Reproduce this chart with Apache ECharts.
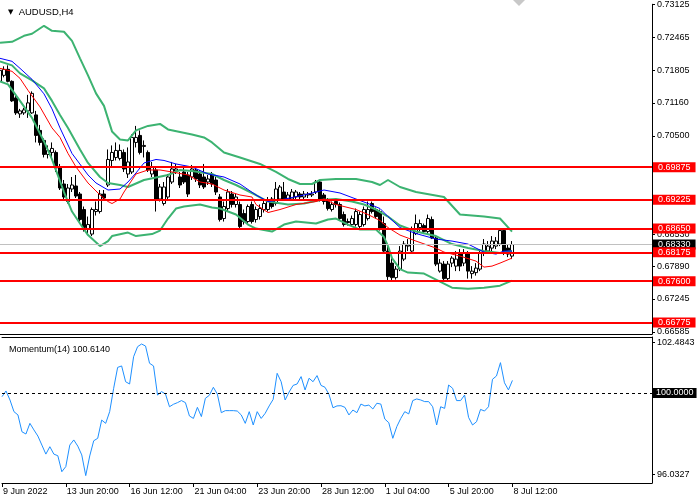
<!DOCTYPE html>
<html><head><meta charset="utf-8">
<script src="https://cdn.jsdelivr.net/npm/echarts@6/dist/echarts.min.js"></script>
<style>html,body{margin:0;padding:0;background:#fff;}#c{width:700px;height:500px;}</style>
</head><body><div id="c"></div>
<script>
const tickLabels = ['9 Jun 2022','13 Jun 20:00','16 Jun 12:00','21 Jun 04:00','23 Jun 20:00','28 Jun 12:00','1 Jul 04:00','5 Jul 20:00','8 Jul 12:00'];
const slotCount = 164; // 129 H4 bars + empty right margin
const categories = Array.from({length: slotCount}, (_, i) => i);

// [open, close, low, high]
const candles = [
[0.7159,0.7181,0.7157,0.7185],[0.7171,0.7183,0.7167,0.7189],[0.7183,0.7159,0.7157,0.7191],[0.7159,0.7120,0.7118,0.7161],
[0.7126,0.7096,0.7092,0.7130],[0.7094,0.7100,0.7086,0.7104],[0.7096,0.7102,0.7092,0.7106],[0.7100,0.7116,0.7086,0.7132],
[0.7096,0.7135,0.7094,0.7139],[0.7092,0.7051,0.7037,0.7100],[0.7061,0.7037,0.7031,0.7072],[0.7041,0.7013,0.7007,0.7045],
[0.7013,0.7021,0.7005,0.7031],[0.7017,0.7025,0.7007,0.7037],[0.7017,0.6986,0.6978,0.7021],[0.6988,0.6946,0.6942,0.6994],
[0.6954,0.6928,0.6924,0.6962],[0.6919,0.6946,0.6915,0.6954],[0.6944,0.6952,0.6938,0.6968],[0.6950,0.6930,0.6926,0.6972],
[0.6934,0.6883,0.6879,0.6938],[0.6903,0.6867,0.6859,0.6909],[0.6865,0.6873,0.6854,0.6889],[0.6854,0.6903,0.6850,0.6907],
[0.6899,0.6903,0.6891,0.6919],[0.6899,0.6934,0.6895,0.6942],[0.6934,0.6926,0.6922,0.6942],[0.6952,0.7003,0.6948,0.7023],
[0.7001,0.7017,0.6988,0.7031],[0.7007,0.7021,0.7001,0.7037],[0.7005,0.7021,0.7001,0.7033],[0.7017,0.6984,0.6978,0.7023],
[0.6974,0.6998,0.6966,0.7027],[0.6978,0.7047,0.6974,0.7053],[0.7037,0.7047,0.7027,0.7070],[0.7051,0.7017,0.7013,0.7061],
[0.7029,0.7031,0.7007,0.7041],[0.7017,0.6982,0.6978,0.7021],[0.6974,0.6988,0.6968,0.6998],[0.6982,0.6922,0.6899,0.6988],
[0.6924,0.6948,0.6919,0.6954],[0.6915,0.6948,0.6911,0.6958],[0.6928,0.6968,0.6924,0.6974],[0.6958,0.6984,0.6954,0.6998],
[0.6980,0.6984,0.6974,0.6994],[0.6968,0.6952,0.6946,0.6978],[0.6978,0.6958,0.6954,0.6986],[0.6972,0.6934,0.6928,0.6978],
[0.6968,0.6984,0.6962,0.6992],[0.6982,0.6964,0.6958,0.6988],[0.6974,0.6952,0.6946,0.6982],[0.6968,0.6948,0.6944,0.6994],
[0.6958,0.6964,0.6952,0.6972],[0.6972,0.6954,0.6948,0.6978],[0.6962,0.6938,0.6932,0.6968],[0.6928,0.6883,0.6879,0.6934],
[0.6885,0.6909,0.6879,0.6919],[0.6905,0.6938,0.6899,0.6944],[0.6934,0.6913,0.6907,0.6940],[0.6913,0.6928,0.6907,0.6934],
[0.6913,0.6869,0.6863,0.6919],[0.6895,0.6879,0.6873,0.6903],[0.6879,0.6909,0.6875,0.6913],[0.6913,0.6879,0.6875,0.6919],
[0.6883,0.6903,0.6877,0.6909],[0.6889,0.6905,0.6883,0.6913],[0.6903,0.6915,0.6897,0.6921],[0.6903,0.6922,0.6899,0.6928],
[0.6924,0.6909,0.6905,0.6928],[0.6915,0.6944,0.6911,0.6958],[0.6924,0.6948,0.6921,0.6952],[0.6938,0.6924,0.6921,0.6958],
[0.6924,0.6932,0.6921,0.6938],[0.6924,0.6938,0.6921,0.6944],[0.6928,0.6938,0.6924,0.6942],[0.6934,0.6928,0.6924,0.6938],
[0.6928,0.6934,0.6924,0.6940],[0.6932,0.6934,0.6926,0.6938],[0.6932,0.6934,0.6928,0.6940],[0.6938,0.6958,0.6934,0.6962],
[0.6958,0.6922,0.6919,0.6962],[0.6932,0.6919,0.6913,0.6936],[0.6922,0.6905,0.6901,0.6926],[0.6903,0.6913,0.6899,0.6919],
[0.6919,0.6913,0.6907,0.6922],[0.6913,0.6885,0.6881,0.6917],[0.6893,0.6873,0.6869,0.6899],[0.6879,0.6877,0.6871,0.6885],
[0.6873,0.6885,0.6869,0.6891],[0.6873,0.6899,0.6869,0.6905],[0.6869,0.6893,0.6865,0.6899],[0.6873,0.6903,0.6869,0.6909],
[0.6885,0.6903,0.6881,0.6919],[0.6915,0.6899,0.6895,0.6919],[0.6903,0.6889,0.6885,0.6907],[0.6899,0.6865,0.6861,0.6903],
[0.6875,0.6820,0.6816,0.6889],[0.6820,0.6769,0.6761,0.6830],[0.6796,0.6767,0.6761,0.6810],[0.6767,0.6784,0.6763,0.6790],
[0.6784,0.6820,0.6780,0.6830],[0.6804,0.6834,0.6800,0.6840],[0.6830,0.6832,0.6820,0.6844],[0.6820,0.6863,0.6816,0.6869],
[0.6855,0.6875,0.6852,0.6893],[0.6867,0.6875,0.6859,0.6883],[0.6871,0.6859,0.6854,0.6875],[0.6859,0.6885,0.6855,0.6893],
[0.6883,0.6846,0.6844,0.6889],[0.6846,0.6794,0.6790,0.6850],[0.6780,0.6796,0.6777,0.6804],[0.6794,0.6765,0.6761,0.6800],
[0.6765,0.6794,0.6761,0.6800],[0.6796,0.6806,0.6788,0.6810],[0.6790,0.6804,0.6780,0.6820],[0.6816,0.6790,0.6780,0.6824],
[0.6796,0.6816,0.6790,0.6824],[0.6816,0.6780,0.6765,0.6820],[0.6775,0.6780,0.6765,0.6790],[0.6777,0.6786,0.6771,0.6796],
[0.6784,0.6816,0.6780,0.6824],[0.6816,0.6834,0.6810,0.6844],[0.6820,0.6830,0.6816,0.6840],[0.6826,0.6840,0.6820,0.6850],
[0.6830,0.6840,0.6824,0.6848],[0.6834,0.6861,0.6830,0.6863],[0.6861,0.6816,0.6812,0.6863],[0.6826,0.6814,0.6808,0.6834],
[0.6810,0.6833,0.6804,0.6840]
];

// indicator lines sampled at bar indices: [bar, value]
const bbUpper = [[0,0.7236],[3,0.7238],[6,0.7250],[8,0.7254],[11,0.7270],[13,0.7260],[16,0.7258],[18,0.7240],[20,0.7205],[22,0.7171],[24,0.7135],[26,0.7110],[28,0.7059],[30,0.7043],[32,0.7041],[34,0.7061],[37,0.7070],[40,0.7074],[42,0.7063],[48,0.7053],[51,0.7047],[53,0.7037],[56,0.7017],[60,0.7007],[65,0.6994],[69,0.6978],[72,0.6964],[75,0.6954],[78,0.6954],[80,0.6962],[84,0.6964],[89,0.6964],[93,0.6958],[95,0.6952],[97,0.6962],[100,0.6948],[104,0.6938],[111,0.6928],[115,0.6893],[121,0.6889],[125,0.6885],[128,0.6859]];
const bbMiddle = [[0,0.7199],[3,0.7191],[5,0.7175],[8,0.7161],[11,0.7145],[13,0.7120],[15,0.7092],[17,0.7066],[20,0.7023],[22,0.6996],[25,0.6968],[27,0.6956],[30,0.6952],[32,0.6948],[36,0.6962],[42,0.6972],[45,0.6982],[48,0.6980],[53,0.6974],[56,0.6962],[59,0.6952],[64,0.6932],[67,0.6919],[72,0.6913],[76,0.6915],[80,0.6922],[84,0.6924],[88,0.6919],[91,0.6913],[94,0.6903],[97,0.6889],[100,0.6871],[104,0.6859],[109,0.6850],[113,0.6834],[117,0.6826],[121,0.6820],[125,0.6816],[128,0.6820]];
const bbLower = [[0,0.7159],[2,0.7153],[5,0.7120],[8,0.7086],[11,0.7039],[13,0.7003],[16,0.6938],[18,0.6899],[20,0.6875],[22,0.6852],[25,0.6830],[27,0.6840],[28,0.6850],[32,0.6857],[34,0.6850],[38,0.6854],[40,0.6861],[42,0.6885],[44,0.6905],[46,0.6909],[50,0.6913],[53,0.6907],[55,0.6905],[59,0.6893],[62,0.6873],[64,0.6865],[68,0.6859],[71,0.6873],[74,0.6879],[79,0.6875],[82,0.6883],[84,0.6885],[87,0.6873],[90,0.6863],[94,0.6863],[96,0.6848],[97,0.6830],[98,0.6806],[100,0.6784],[102,0.6777],[106,0.6775],[110,0.6759],[113,0.6747],[117,0.6745],[121,0.6747],[125,0.6751],[128,0.6761]];
const maBlue = [[0,0.7205],[3,0.7199],[5,0.7185],[8,0.7163],[11,0.7134],[13,0.7104],[15,0.7066],[18,0.7015],[22,0.6972],[24,0.6956],[27,0.6942],[30,0.6944],[32,0.6958],[34,0.6976],[36,0.6996],[39,0.7003],[41,0.7001],[44,0.6994],[48,0.6988],[52,0.6974],[56,0.6968],[60,0.6954],[64,0.6932],[67,0.6919],[70,0.6922],[76,0.6932],[81,0.6942],[85,0.6936],[89,0.6924],[92,0.6915],[95,0.6905],[97,0.6889],[100,0.6867],[104,0.6855],[109,0.6844],[113,0.6840],[117,0.6834],[121,0.6818],[124,0.6814],[126,0.6820],[128,0.6820]];
const maRed = [[0,0.7185],[3,0.7179],[5,0.7165],[7,0.7141],[10,0.7108],[13,0.7066],[15,0.7047],[17,0.7015],[19,0.6988],[22,0.6956],[25,0.6932],[27,0.6919],[28,0.6915],[30,0.6924],[31,0.6938],[34,0.6974],[37,0.6982],[40,0.6982],[43,0.6978],[47,0.6972],[50,0.6958],[53,0.6954],[56,0.6942],[60,0.6932],[63,0.6928],[64,0.6913],[67,0.6897],[70,0.6903],[74,0.6913],[79,0.6919],[81,0.6924],[84,0.6913],[89,0.6903],[92,0.6893],[95,0.6881],[97,0.6867],[100,0.6852],[104,0.6840],[109,0.6826],[111,0.6818],[115,0.6810],[119,0.6800],[121,0.6788],[123,0.6790],[125,0.6796],[128,0.6806]];

const momentum = [99.82,100.10,99.66,99.09,98.93,98.11,98.00,98.52,98.20,97.90,
97.46,97.02,97.38,97.02,96.94,96.16,96.41,97.46,97.71,97.41,
96.98,95.97,96.93,97.67,97.79,98.68,98.52,99.09,100.23,101.25,
101.32,100.55,100.44,101.77,102.26,102.39,102.29,101.45,101.32,99.90,
100.07,99.95,99.33,99.45,99.53,99.63,99.53,98.88,98.76,99.30,
98.85,99.74,99.89,100.28,99.95,99.04,99.14,99.14,99.14,99.12,
98.93,98.52,99.09,98.44,99.09,98.76,99.01,99.37,99.69,100.96,
100.55,99.66,100.05,100.37,100.44,100.80,100.15,100.72,100.55,100.85,
100.37,100.28,99.93,99.28,99.37,99.38,99.30,98.93,99.17,99.04,
99.46,99.37,99.41,99.22,99.50,99.46,98.73,98.55,97.79,98.36,
98.76,99.09,98.98,99.63,99.71,99.66,99.58,99.58,99.33,98.44,
99.33,99.25,100.39,100.23,99.63,99.63,99.90,98.81,98.44,98.60,
99.20,99.12,99.33,100.67,100.83,101.48,100.50,100.15,100.614];

const levels = [0.69875, 0.69225, 0.68650, 0.68175, 0.67600, 0.66775];
const bidPrice = 0.68330;
const priceTicks = [0.73125, 0.72465, 0.71805, 0.71160, 0.70500, 0.68530, 0.67890, 0.67245, 0.66585];
const momTicks = [102.4843, 96.0327];
const momLevel = 100;
const momLabel = 'Momentum(14) 100.6140';
const symbolTitle = 'AUDUSD,H4';

const FONT = 'Liberation Sans';
const chart = echarts.init(document.getElementById('c'), null, {renderer: 'canvas'});
const tickShow = (i) => i % 16 === 0 && i / 16 < tickLabels.length;

const levelLabel = {position: 'end', distance: 1, color: '#fff', backgroundColor: '#ff0000',
  padding: [1, 5, 0, 5], fontFamily: FONT, fontSize: 9, lineHeight: 9};

chart.setOption({
  animation: false,
  backgroundColor: '#ffffff',
  title: [
    {text: '{t|▼}  ' + symbolTitle, left: 3, top: 2,
     textStyle: {fontFamily: FONT, fontSize: 9.5, fontWeight: 'normal', color: '#000',
       rich: {t: {fontFamily: 'DejaVu Sans', fontSize: 7, color: '#000'}}}},
    {text: momLabel, left: 4, top: 340,
     textStyle: {fontFamily: FONT, fontSize: 9, fontWeight: 'normal', color: '#000'}}
  ],
  graphic: [{type: 'polygon', shape: {points: [[513,0],[525,0],[519,6]]}, style: {fill: '#c8c8c8'}, silent: true}],
  grid: [
    {left: 0, top: 0, width: 652, height: 334},
    {left: 0, top: 337, width: 652, height: 146}
  ],
  xAxis: [
    {type: 'category', gridIndex: 0, data: categories, boundaryGap: false,
     axisLine: {lineStyle: {color: '#000', width: 1}}, axisTick: {show: false}, axisLabel: {show: false}, splitLine: {show: false}},
    {type: 'category', gridIndex: 1, data: categories, boundaryGap: false, position: 'bottom',
     axisLine: {lineStyle: {color: '#000', width: 1}},
     axisTick: {show: true, interval: (i) => tickShow(i), length: 4, lineStyle: {color: '#000'}},
     axisLabel: {interval: (i) => tickShow(i), formatter: (v, i) => tickShow(i) ? tickLabels[i / 16] : '',
       align: 'left', margin: 4, padding: [0, 0, 0, 1], fontFamily: FONT, fontSize: 9, color: '#000'},
     splitLine: {show: false}},
    {type: 'category', gridIndex: 1, data: categories, boundaryGap: false, position: 'top',
     axisLine: {lineStyle: {color: '#000', width: 1}}, axisTick: {show: false}, axisLabel: {show: false}}
  ],
  yAxis: [
    {type: 'value', gridIndex: 0, position: 'right', min: 0.66544, max: 0.7313,
     splitLine: {show: false}, axisLine: {show: true, lineStyle: {color: '#000'}},
     axisTick: {show: true, customValues: priceTicks, length: 3, lineStyle: {color: '#000'}},
     axisLabel: {customValues: priceTicks, formatter: (v) => v.toFixed(5), margin: 5,
       fontFamily: FONT, fontSize: 9, color: '#000'}},
    {type: 'value', gridIndex: 1, position: 'right', min: 95.61, max: 102.732,
     splitLine: {show: false}, axisLine: {show: true, lineStyle: {color: '#000'}},
     axisTick: {show: true, customValues: momTicks, length: 3, lineStyle: {color: '#000'}},
     axisLabel: {customValues: momTicks, formatter: (v) => v.toFixed(4), margin: 5,
       fontFamily: FONT, fontSize: 9, color: '#000'}}
  ],
  series: [
    {type: 'candlestick', xAxisIndex: 0, yAxisIndex: 0, data: candles, barWidth: 3,
     itemStyle: {color: '#ffffff', color0: '#000000', borderColor: '#000000', borderColor0: '#000000', borderWidth: 1}},
    {type: 'line', name: 'levels', xAxisIndex: 0, yAxisIndex: 0, data: [], showSymbol: false, z: 2,
     markLine: {silent: true, symbol: ['none', 'none'], animation: false, precision: 5,
       lineStyle: {color: '#ff0000', width: 2, type: 'solid'},
       label: levelLabel,
       data: [{yAxis: bidPrice, lineStyle: {color: '#c0c0c0', width: 1},
               label: {backgroundColor: '#000', formatter: bidPrice.toFixed(5)}}]
         .concat(levels.map(v => ({yAxis: v, label: {formatter: v.toFixed(5)}})))}},
    {type: 'line', name: 'bbUpper', xAxisIndex: 0, yAxisIndex: 0, data: bbUpper, showSymbol: false, z: 3,
     lineStyle: {color: '#3cb371', width: 2}},
    {type: 'line', name: 'bbMiddle', xAxisIndex: 0, yAxisIndex: 0, data: bbMiddle, showSymbol: false, z: 3,
     lineStyle: {color: '#3cb371', width: 2}},
    {type: 'line', name: 'bbLower', xAxisIndex: 0, yAxisIndex: 0, data: bbLower, showSymbol: false, z: 3,
     lineStyle: {color: '#3cb371', width: 2}},
    {type: 'line', name: 'maBlue', xAxisIndex: 0, yAxisIndex: 0, data: maBlue, showSymbol: false, z: 4,
     lineStyle: {color: '#0000ff', width: 1}},
    {type: 'line', name: 'maRed', xAxisIndex: 0, yAxisIndex: 0, data: maRed, showSymbol: false, z: 4,
     lineStyle: {color: '#ff0000', width: 1}},
    {type: 'line', name: 'momentum', xAxisIndex: 1, yAxisIndex: 1, data: momentum, showSymbol: false,
     lineStyle: {color: '#1e90ff', width: 1},
     markLine: {silent: true, symbol: ['none', 'none'], animation: false, precision: 4,
       lineStyle: {color: '#000', width: 1, type: [3, 3]},
       label: {position: 'end', distance: 1, formatter: momLevel.toFixed(4), color: '#fff',
         backgroundColor: '#000', padding: [1, 3, 0, 3], fontFamily: FONT, fontSize: 9, lineHeight: 9},
       data: [{yAxis: momLevel}]}}
  ]
});
</script></body></html>
